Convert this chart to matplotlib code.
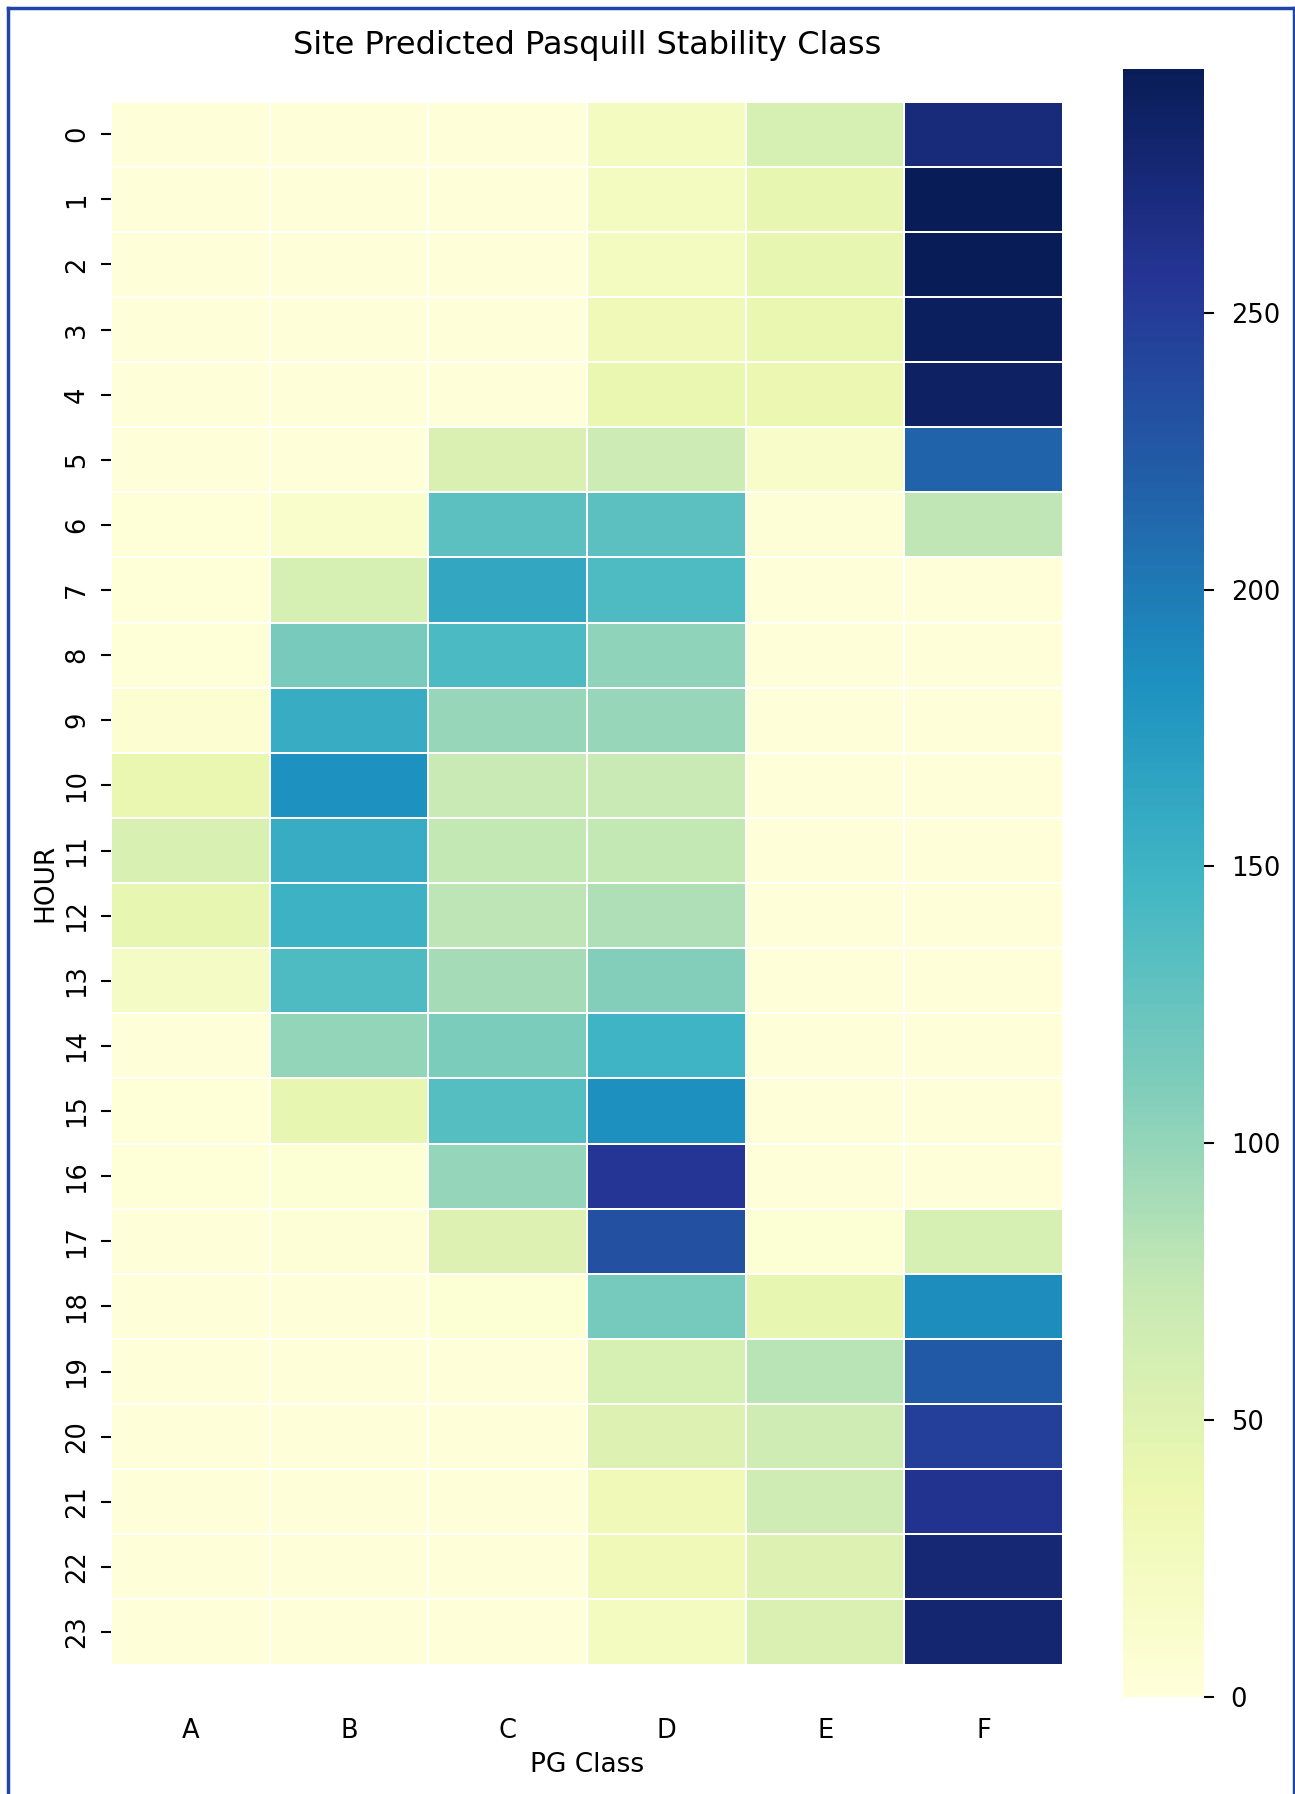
import matplotlib
matplotlib.use('Agg')
import matplotlib.pyplot as plt
from matplotlib.lines import Line2D
import numpy as np
import pandas as pd
import seaborn as sns

# Hourly counts of predicted Pasquill-Gifford stability class
hours = list(range(24))
pg_classes = ['A', 'B', 'C', 'D', 'E', 'F']

class_a = [2, 2, 2, 2, 2, 2, 3, 3, 3, 8, 40, 57, 43, 20, 2, 3, 3, 2, 2, 2, 2, 2, 2, 2]
class_b = [2, 2, 2, 2, 2, 2, 13, 59, 114, 157, 183, 157, 151, 140, 101, 43, 6, 4, 2, 2, 2, 2, 2, 2]
class_c = [2, 2, 2, 2, 2, 56, 130, 161, 141, 98, 72, 75, 79, 91, 112, 135, 99, 53, 6, 2, 2, 2, 2, 2]
class_d = [23, 23, 23, 32, 40, 68, 130, 140, 103, 98, 72, 75, 87, 108, 149, 184, 256, 233, 117, 59, 53, 32, 32, 24]
class_e = [59, 43, 43, 41, 39, 16, 4, 2, 2, 2, 2, 2, 2, 2, 2, 2, 2, 6, 43, 81, 67, 67, 53, 56]
class_f = [273, 294, 294, 290, 286, 217, 77, 2, 2, 2, 2, 2, 2, 2, 2, 2, 2, 59, 187, 225, 248, 260, 276, 279]

df = pd.DataFrame(dict(zip(pg_classes, [class_a, class_b, class_c, class_d, class_e, class_f])),
                  index=hours)
df.index.name = 'HOUR'

fig = plt.figure(figsize=(12.95, 17.94), dpi=100)
ax = fig.add_axes([0.0857, 0.054, 0.7353, 0.9075])
cax = fig.add_axes([0.867, 0.054, 0.063, 0.9075])

sns.heatmap(df, cmap='YlGnBu', vmin=0, vmax=294, linewidths=1.1, linecolor='white',
            ax=ax, cbar_ax=cax)
# the old "cut-off cells" fix, leaves half a cell of space top and bottom
ax.set_ylim(len(hours) + 0.5, -0.5)

ax.set_title('Site Predicted Pasquill Stability Class', fontsize=23, pad=11)
ax.set_xlabel('PG Class', fontsize=19, labelpad=6)
ax.set_ylabel('HOUR', fontsize=19, labelpad=4)
ax.tick_params(axis='x', length=0, labelsize=18.5, pad=15)
ax.tick_params(axis='y', labelsize=18.5, width=1.5, length=7, pad=8)
plt.setp(ax.get_yticklabels(), rotation=90, va='center')

cax.set_yticks([0, 50, 100, 150, 200, 250])
cax.tick_params(labelsize=18.5, width=1.5, length=7, pad=12)

# blue frame around the screenshot
frame = dict(color='#1f45a8', linewidth=2.5, transform=fig.transFigure)
fig.add_artist(Line2D([0.006, 0.999], [0.9955, 0.9955], **frame))
fig.add_artist(Line2D([0.006, 0.006], [0.0, 0.9955], **frame))
fig.add_artist(Line2D([0.999, 0.999], [0.0, 0.9955], **frame))

fig.savefig('out.png', dpi=100)
